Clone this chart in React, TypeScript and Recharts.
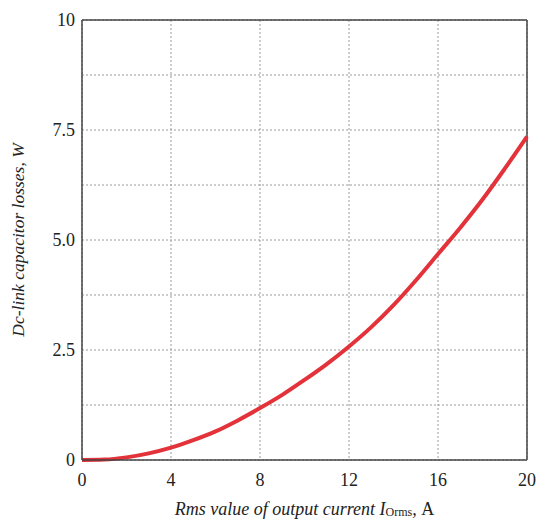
import React from "react";
import {
  LineChart,
  Line,
  XAxis,
  YAxis,
  CartesianGrid,
  ReferenceLine,
  Label,
} from "recharts";

// rms output current, A
const currents = [0, 1, 2, 3, 4, 5, 6, 7, 8, 9, 10, 11, 12, 13, 14, 15, 16, 17, 18, 19, 20];
// dc-link capacitor losses, W
const losses = [
  0, 0.01, 0.06, 0.15, 0.28, 0.45, 0.65, 0.9, 1.18, 1.48, 1.82, 2.18, 2.58, 3.02, 3.52,
  4.08, 4.68, 5.28, 5.92, 6.62, 7.35,
];
const xTicks = [0, 4, 8, 12, 16, 20];
const yTicks = [0, 1.25, 2.5, 3.75, 5, 6.25, 7.5, 8.75, 10];
const yLabels: Record<number, string> = { 0: "0", 2.5: "2.5", 5: "5.0", 7.5: "7.5", 10: "10" };

const data = currents.map((c, i) => ({ current: c, loss: losses[i] }));

const FONT = "'Liberation Serif', 'DejaVu Serif', serif";
const AXIS = "#444";
const GRID = "#9a9a9a";

function XTitle({ viewBox }: any) {
  const cx = viewBox.x + viewBox.width / 2;
  return (
    <text x={cx} y={515} textAnchor="middle" fontFamily={FONT} fontSize={18} fill="#222">
      <tspan fontStyle="italic">Rms value of output current I</tspan>
      <tspan fontSize={12} dy={1}>Orms</tspan>
      <tspan dy={-1} fontStyle="italic">, </tspan>
      <tspan>A</tspan>
    </text>
  );
}

function YTitle({ viewBox }: any) {
  const cy = viewBox.y + viewBox.height / 2;
  return (
    <text
      x={24}
      y={cy}
      transform={`rotate(-90, 24, ${cy})`}
      textAnchor="middle"
      fontFamily={FONT}
      fontSize={17.5}
      fontStyle="italic"
      fill="#222"
    >
      Dc-link capacitor losses, W
    </text>
  );
}

export default function App() {
  return (
    <div style={{ position: "absolute", left: 0, top: 0, background: "#fff" }}>
      <LineChart
        width={550}
        height={531}
        data={data}
        margin={{ top: 20, right: 23, left: 0, bottom: 0 }}
      >
        <CartesianGrid stroke={GRID} strokeDasharray="2 2" />
        <XAxis
          dataKey="current"
          type="number"
          domain={[0, 20]}
          ticks={xTicks}
          height={71}
          tickLine={false}
          tickSize={0}
          tickMargin={13}
          stroke={AXIS}
          strokeWidth={1.5}
          tick={{ fill: "#222", fontFamily: FONT, fontSize: 18 }}
        >
          <Label content={<XTitle />} />
        </XAxis>
        <YAxis
          type="number"
          domain={[0, 10]}
          ticks={yTicks}
          width={82}
          interval={0}
          tickLine={false}
          tickSize={0}
          tickMargin={7}
          stroke={AXIS}
          strokeWidth={1.5}
          tickFormatter={(v: number) => yLabels[v] ?? ""}
          tick={{ fill: "#222", fontFamily: FONT, fontSize: 18 }}
        >
          <Label content={<YTitle />} />
        </YAxis>
        <ReferenceLine y={10} stroke={AXIS} strokeWidth={1.5} />
        <ReferenceLine x={20} stroke={AXIS} strokeWidth={1.5} />
        <Line
          type="monotone"
          dataKey="loss"
          stroke="#e3323a"
          strokeWidth={4}
          dot={false}
          isAnimationActive={false}
        />
      </LineChart>
    </div>
  );
}
